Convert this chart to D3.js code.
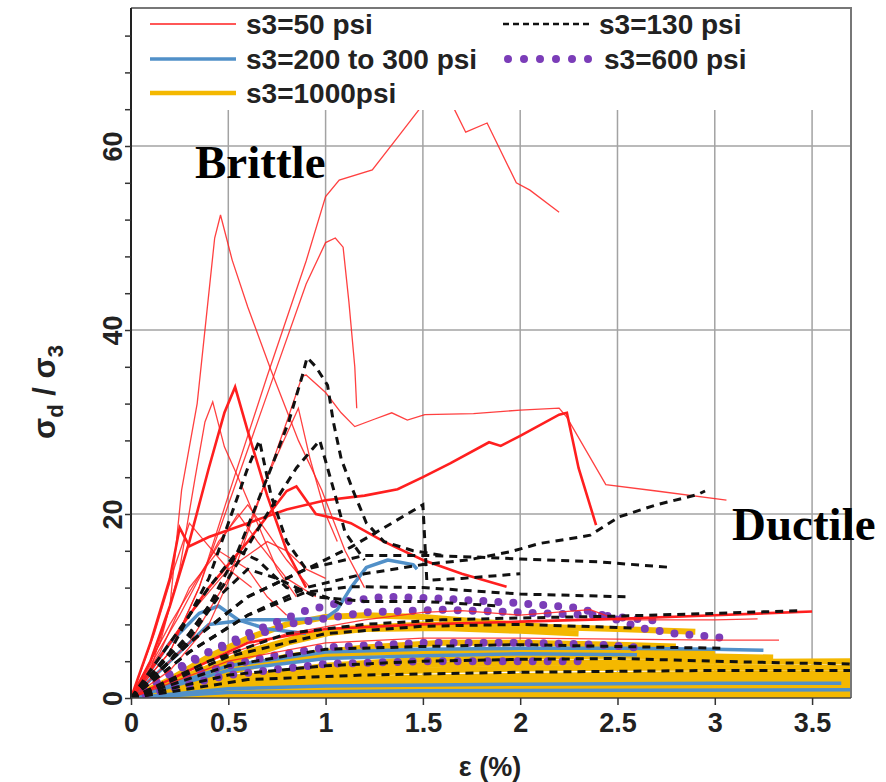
<!DOCTYPE html>
<html><head><meta charset="utf-8">
<script src="https://cdn.jsdelivr.net/npm/d3@7"></script>
<style>body{margin:0;background:#fff}</style>
</head><body>
<svg id="c" width="886" height="782"></svg>
<script>
// ---------------- DATA (strain %, sigma_d/sigma_3) ----------------
const xTicks = [0, 0.5, 1, 1.5, 2, 2.5, 3, 3.5];
const xTickLabels = ["0", "0.5", "1", "1.5", "2", "2.5", "3", "3.5"];
const yTicks = [0,4,8,12,16,20,24,28,32,36,40,44,48,52,56,60,64,68,72];
const yTickLabels = ["0", "20", "40", "60"];
const legendLabels = ["s3=50 psi", "s3=130 psi", "s3=200 to 300 psi", "s3=600 psi", "s3=1000psi"];

// s3 = 50 psi (red), thin curves
const red50Thin = [
  [[0,0],[0.2,5],[0.35,12],[0.5,22],[0.7,35],[0.9,47.5],[1.0,54.5],[1.07,56.3],[1.24,57.4],[1.38,61.2],[1.5,64.5],[1.58,67],[1.65,64.5],[1.72,61.5],[1.83,62.5],[1.98,56],[2.05,55.2],[2.2,52.8]],
  [[0,0],[0.2,5],[0.35,12],[0.5,21],[0.7,33],[0.9,45],[1.0,49.5],[1.05,50],[1.09,49],[1.12,43],[1.15,36],[1.16,31.5]],
  [[0,0],[0.1,3],[0.2,10],[0.26,22.6],[0.34,32],[0.39,42],[0.43,50],[0.46,52.5],[0.52,47.6],[0.6,42.5],[0.72,35.6],[0.86,28],[0.98,22.6],[1.1,16],[1.2,12]],
  [[0,0],[0.15,6],[0.25,14],[0.33,24],[0.38,30],[0.42,32.2],[0.48,27.3],[0.55,24],[0.65,19],[0.75,14],[0.85,11]],
  [[0,0],[0.2,3],[0.4,8],[0.55,15],[0.7,24],[0.8,30],[0.88,35],[0.9,35.1],[1.0,33.2],[1.08,31],[1.15,29.5],[1.25,30.3],[1.34,31],[1.42,30.2],[1.51,30.8],[1.76,30.9],[2.0,31.3],[2.2,31.5],[2.24,30.5],[2.44,23.2],[2.7,22.5],[3.06,21.5]],
  [[0,0],[0.3,6],[0.5,13],[0.7,24],[0.86,31.5],[0.92,26],[1.0,20],[1.06,17]],
  [[0,0],[0.2,8],[0.4,15],[0.55,20],[0.65,17],[0.8,13],[0.95,11]],
  [[0,0],[0.15,5],[0.3,12],[0.45,16],[0.6,14],[0.7,11],[0.8,9]],
  [[0,0],[0.3,9],[0.5,14],[0.7,17],[0.8,16],[0.9,14],[1.0,13]],
  [[0,0],[0.12,7],[0.22,14],[0.3,19],[0.38,17],[0.5,14],[0.62,12]],
  [[0,0],[0.25,9],[0.45,17],[0.6,21],[0.7,18],[0.8,15],[0.92,12]],
  [[0,0],[0.4,4],[0.8,7],[1.2,8.5],[1.5,9.3],[1.7,9.5],[2.0,9],[2.36,9.6],[2.5,8.5],[3.0,8.5],[3.22,8.6]],
  [[0,0],[0.5,4],[1.0,6],[1.5,6.5],[2.0,6.5],[2.5,6.4],[3.0,6.3],[3.33,6.3]]
];
// s3 = 50 psi (red), thick curves
const red50Thick = [
  [[0,0],[0.1,6],[0.2,13],[0.25,18.5],[0.3,16.5],[0.4,17.5],[0.6,19],[0.8,20.5],[1.0,21.5],[1.2,22],[1.37,22.7],[1.5,24],[1.64,25.5],[1.84,27.8],[1.9,27.4],[2.0,28.5],[2.2,30.8],[2.24,31],[2.3,25],[2.39,18.8]],
  [[0,0],[0.1,4],[0.2,10],[0.3,17],[0.4,25],[0.48,31],[0.535,33.8],[0.6,29],[0.7,22],[0.8,16],[0.9,12]],
  [[0,0],[0.2,6],[0.4,12],[0.6,17],[0.8,22.5],[0.85,23],[0.95,20],[1.05,19.5],[1.13,19],[1.3,17],[1.5,15],[1.7,13.5],[1.93,12.1]],
  [[0,0],[0.3,3],[0.6,6],[1.0,7.5],[1.5,8],[2.0,8.3],[2.5,8.6],[3.0,9],[3.5,9.4]]
];
// s3 = 130 psi (black dashed)
const black130 = [
  [[0,0],[0.2,4],[0.4,10],[0.55,16],[0.72,25],[0.81,30],[0.88,35],[0.905,37],[0.95,36],[1.01,34],[1.04,30],[1.08,26],[1.14,22.6],[1.21,19],[1.3,17],[1.45,16],[1.6,15.5]],
  [[0,0],[0.3,7],[0.5,13],[0.7,20],[0.85,25],[0.97,28],[1.05,22],[1.1,18],[1.2,15]],
  [[0,0],[0.3,6],[0.6,11],[0.9,14],[1.13,16.4],[1.3,18.5],[1.5,21],[1.51,17],[1.52,12.8],[1.7,13],[2.0,13.5]],
  [[0,0],[0.3,5],[0.6,9],[0.9,12],[1.2,13.5],[1.5,14.5],[1.73,15],[1.95,15.9],[2.1,16.8],[2.31,17.5],[2.36,17.7],[2.51,19.7],[2.7,21],[2.91,22.1],[2.95,22.5]],
  [[0,0],[0.3,6],[0.6,11],[0.9,14],[1.2,15.5],[1.5,15.5],[1.8,15.3],[2.0,15.1],[2.4,14.8],[2.77,14.2]],
  [[0,0],[0.3,5],[0.6,9],[0.9,11.5],[1.13,12.1],[1.5,12],[2.0,11.3],[2.55,11]],
  [[0,0],[0.4,4],[0.8,7],[1.2,8],[1.6,8.5],[2.0,8.7],[2.5,8.9],[3.0,9.2],[3.45,9.5]],
  [[0,0],[0.5,2.5],[1.0,3.5],[1.5,4],[2.0,4.2],[2.5,4.3],[3.0,4],[3.4,3.8],[3.7,3.7]],
  [[0,0],[0.5,3.5],[1.0,5.3],[1.5,5.6],[2.0,5.8],[2.5,5.6],[3.05,5.4]],
  [[0,0],[0.5,4.5],[1.0,7],[1.5,7.8],[2.0,8],[2.6,7.6]],
  [[0,0],[0.2,6],[0.4,12],[0.55,16],[0.65,15],[0.8,12],[1.0,11],[1.1,10]],
  [[0,0],[0.25,5],[0.45,11],[0.6,14],[0.75,13],[0.95,11],[1.2,10.5],[1.5,10.5],[1.9,10]],
  [[0,0],[0.2,5],[0.4,13],[0.5,19],[0.6,25],[0.66,28],[0.72,22],[0.8,17],[0.9,14]],
  [[0,0],[0.6,2],[1.2,2.5],[2.0,2.8],[3.0,3],[3.7,3]]
];
// s3 = 200 to 300 psi (blue)
const blue250 = [
  [[0,0],[0.2,4],[0.4,8],[0.6,8.5],[0.8,8.5],[1.0,8.7],[1.06,9.6],[1.13,12],[1.21,14.2],[1.32,15],[1.45,14.5],[1.47,14]],
  [[0,0],[0.2,6],[0.35,9.2],[0.45,10],[0.55,8.5],[0.7,7.5],[0.9,7]],
  [[0,0],[0.5,3.5],[1.0,5],[1.5,5.3],[2.0,5.4],[2.5,5.4],[3.0,5.3],[3.25,5.2]],
  [[0,0],[0.5,3],[1.0,4.3],[1.5,4.6],[2.0,4.8],[2.6,4.7]],
  [[0,0],[0.5,1],[1.0,1.3],[2.0,1.5],[3.0,1.6],[3.65,1.6]],
  [[0,0],[0.5,0.6],[1.5,0.8],[3.7,0.9]]
];
// s3 = 600 psi (purple dots)
const purple600 = [
  [[0,0],[0.3,4],[0.6,7],[0.9,9.5],[1.1,10.5],[1.3,11],[1.6,10.8],[2.0,10.3],[2.3,9.8],[2.5,8.5],[2.62,7.6],[2.8,7],[3.07,6.5]],
  [[0,0],[0.4,5],[0.8,8],[1.2,9.3],[1.6,9.6],[2.0,9.3],[2.4,9],[2.7,8.4]],
  [[0,0],[0.3,2.5],[0.7,4.5],[1.0,5.5],[1.5,6],[2.0,6],[2.4,5.8],[2.6,5.5]],
  [[0,0],[0.5,2.5],[1.0,3.7],[1.5,4],[2.0,4],[2.3,4]]
];
// s3 = 1000 psi (gold)
const gold1000 = [
  [[0,0],[0.2,2],[0.4,4.5],[0.6,6.5],[0.8,8],[1.0,8.8],[1.2,9],[1.5,8.8],[1.8,8.3],[2.1,7.8]],
  [[0,0],[0.3,2.5],[0.6,5],[0.9,6.8],[1.2,7.5],[1.6,7.6],[2.0,7.3],[2.3,7]],
  [[0,0],[0.4,3],[0.8,6],[1.1,7.5],[1.5,8],[2.0,7.8],[2.5,7.5],[2.9,7.2]],
  [[0,0],[0.4,2.5],[0.8,4.5],[1.2,5.5],[1.6,6],[2.0,6],[2.5,5.8],[2.8,5.6]],
  [[0,0],[0.5,2],[1.0,3.5],[1.5,4.2],[2.0,4.5],[2.5,4.6],[3.0,4.5],[3.3,4.4]],
  [[0,0],[0.5,1.5],[1.0,2.5],[1.5,3],[2.0,3.2],[2.5,3.3],[3.0,3.3],[3.7,3.3]],
  [[0,0],[0.5,1.2],[1.0,2],[2.0,2.4],[3.0,2.6],[3.7,2.6]],
  [[0,0],[0.5,0.8],[1.0,1.3],[2.0,1.7],[3.0,1.9],[3.7,2]],
  [[0,0],[0.5,0.5],[1.0,0.8],[2.0,1],[3.7,1.1]],
  [[0,0],[0.5,0.3],[1.5,0.5],[3.7,0.6]],
  [[0,0],[0.5,0.2],[2.0,0.25],[3.7,0.3]],
  [[0,0],[0.5,1],[1.0,1.7],[2.0,2.0],[3.0,2.2],[3.7,2.3]],
  [[0,0],[0.4,2],[1.0,3],[1.5,3.6],[2.0,3.8],[2.8,3.9],[3.7,4.0]],
  [[0,0],[0.3,1.8],[0.7,3.8],[1.2,4.9],[1.8,5.2],[2.4,5.1],[3.0,5.0]],
  [[0,0],[0.6,0.6],[1.5,1.2],[2.5,1.4],[3.7,1.5]]
];

// ---------------- DRAW ----------------
const svg = d3.select("#c");
const X0 = 131, X1 = 851, Y0 = 698, Y1 = 8;
const x = d3.scaleLinear().domain([0, 3.7]).range([X0, X1]);
const y = d3.scaleLinear().domain([0, 75]).range([Y0, Y1]);
const line = d3.line().x(d => x(d[0])).y(d => y(d[1]));

svg.append("defs").append("clipPath").attr("id","pc")
  .append("rect").attr("x",X0).attr("y",Y1).attr("width",X1-X0).attr("height",Y0-Y1);

// grid
const grid = svg.append("g").attr("stroke","#a3a3a3").attr("stroke-width",1.5);
xTicks.filter(v => v > 0).forEach(v => grid.append("line").attr("x1",x(v)).attr("x2",x(v)).attr("y1",Y1).attr("y2",Y0));
[20,40,60].forEach(v => grid.append("line").attr("x1",X0).attr("x2",X1).attr("y1",y(v)).attr("y2",y(v)));

const plot = svg.append("g").attr("clip-path","url(#pc)").attr("fill","none");
const RED = "#ff1f1f", BLK = "#111", BLU = "#5190c8", PUR = "#7b3db8", GLD = "#f4b800";

plot.selectAll(".g").data(gold1000).join("path").attr("d",line)
  .attr("stroke",GLD).attr("stroke-width",6).attr("stroke-linejoin","round");
plot.selectAll(".b").data(blue250).join("path").attr("d",line)
  .attr("stroke",BLU).attr("stroke-width",3.5).attr("stroke-linejoin","round");
plot.selectAll(".p").data(purple600).join("path").attr("d",line)
  .attr("stroke",PUR).attr("stroke-width",8).attr("stroke-linecap","round").attr("stroke-dasharray","0 15");
plot.selectAll(".rt").data(red50Thin).join("path").attr("d",line)
  .attr("stroke",RED).attr("stroke-width",1.3).attr("stroke-opacity",0.85);
plot.selectAll(".rk").data(red50Thick).join("path").attr("d",line)
  .attr("stroke",RED).attr("stroke-width",2.6);
plot.selectAll(".k").data(black130).join("path").attr("d",line)
  .attr("stroke",BLK).attr("stroke-width",3).attr("stroke-dasharray","8 6");

// legend box (covers top of plot)
svg.append("rect").attr("x",X0+1).attr("y",Y1+1).attr("width",X1-X0-2).attr("height",101).attr("fill","#fff");
const leg = svg.append("g").attr("font-family","'Liberation Sans', Arial, sans-serif")
  .attr("font-weight","bold").attr("font-size",28).attr("fill","#222");
const legItems = [
  {lab:legendLabels[0], c:RED, w:1.6, dash:null, x:150, yy:24},
  {lab:legendLabels[1], c:BLK, w:2.5, dash:"6 4", x:503, yy:24},
  {lab:legendLabels[2], c:BLU, w:3.5, dash:null, x:150, yy:59},
  {lab:legendLabels[3], c:PUR, w:8, dash:"0 16", x:508, yy:59, cap:"round"},
  {lab:legendLabels[4], c:GLD, w:4.5, dash:null, x:150, yy:93}
];
legItems.forEach(d => {
  const l = leg.append("line").attr("x1",d.x).attr("x2",d.x+86).attr("y1",d.yy).attr("y2",d.yy)
    .attr("stroke",d.c).attr("stroke-width",d.w);
  if (d.dash) l.attr("stroke-dasharray",d.dash);
  if (d.cap) l.attr("stroke-linecap",d.cap);
  leg.append("text").attr("x",d.x+96).attr("y",d.yy+10).text(d.lab);
});

// frame
svg.append("path").attr("d",`M${X0},${Y1}H${X1}V${Y0}`).attr("fill","none").attr("stroke","#777").attr("stroke-width",2);
svg.append("line").attr("x1",X0).attr("x2",X0).attr("y1",Y1).attr("y2",Y0).attr("stroke","#222").attr("stroke-width",2);
svg.append("line").attr("x1",X0).attr("x2",X1).attr("y1",Y0).attr("y2",Y0).attr("stroke","#444").attr("stroke-width",1.5);

// axes
const tickFont = "'Liberation Sans Narrow', 'Liberation Sans', Arial, sans-serif";
const xAxis = svg.append("g").attr("transform",`translate(0,${Y0})`)
  .call(d3.axisBottom(x).tickValues(xTicks).tickSize(7).tickPadding(8).tickFormat((d,i) => xTickLabels[i]));
xAxis.select(".domain").remove();
xAxis.selectAll("line").attr("stroke","#333").attr("stroke-width",1.5);
xAxis.selectAll("text").attr("font-family",tickFont).attr("font-weight","bold").attr("font-size",27).attr("fill","#222");

const yAxis = svg.append("g").attr("transform",`translate(${X0},0)`)
  .call(d3.axisLeft(y).tickValues(yTicks).tickSize(6).tickFormat(d => yTickLabels.includes(String(d)) ? String(d) : ""));
yAxis.select(".domain").remove();
yAxis.selectAll("line").attr("stroke","#333").attr("stroke-width",1.5);
yAxis.selectAll("text").attr("font-family",tickFont).attr("font-weight","bold").attr("font-size",27).attr("fill","#222")
  .attr("text-anchor","middle").attr("x",0).attr("y",0).attr("dy",0)
  .attr("transform","translate(-18,0) rotate(-90)")
  .attr("dominant-baseline","central");

// axis titles
svg.append("text").attr("x",490).attr("y",776).attr("text-anchor","middle")
  .attr("font-family","'Liberation Sans', Arial, sans-serif").attr("font-weight","bold").attr("font-size",27).attr("fill","#222")
  .text("ε (%)");
const yl = svg.append("text").attr("transform","translate(55,392) rotate(-90)").attr("text-anchor","middle")
  .attr("font-family","'Liberation Sans', Arial, sans-serif").attr("font-weight","bold").attr("font-size",31).attr("fill","#222");
yl.append("tspan").text("σ");
yl.append("tspan").attr("font-size",22).attr("dy",8).text("d");
yl.append("tspan").attr("dy",-8).text(" / σ");
yl.append("tspan").attr("font-size",22).attr("dy",8).text("3");

// annotations
const ann = svg.append("g").attr("font-family","'Liberation Serif', 'Times New Roman', serif").attr("font-weight","bold")
  .attr("font-size",47).attr("fill","#000");
ann.append("text").attr("x",195).attr("y",178).text("Brittle");
ann.append("text").attr("x",732).attr("y",540).text("Ductile");
</script>
</body></html>
